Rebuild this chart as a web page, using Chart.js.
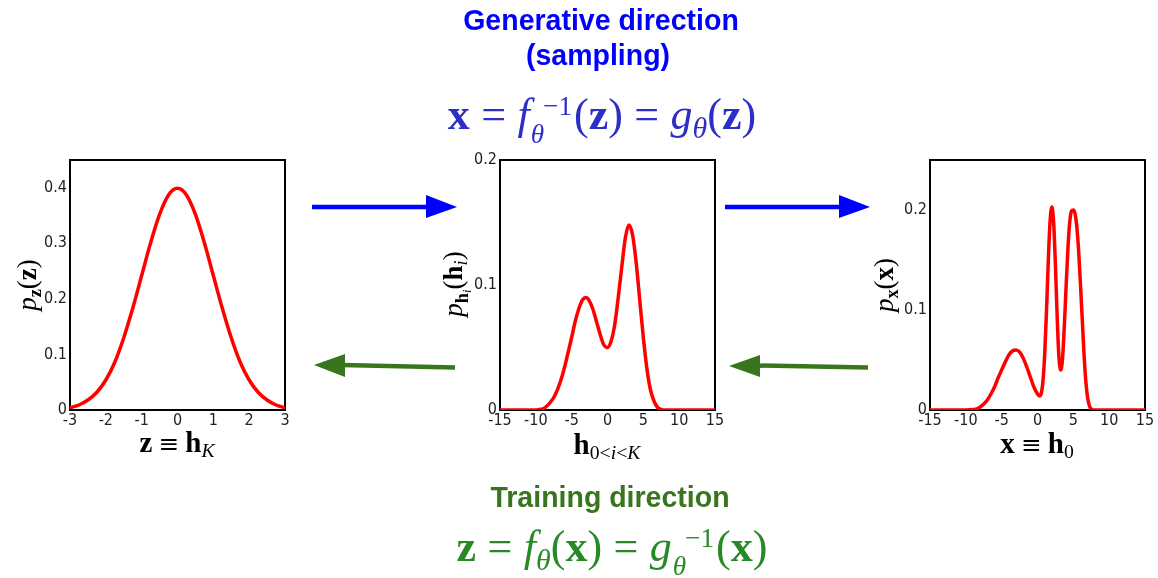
<!DOCTYPE html>
<html>
<head>
<meta charset="utf-8">
<script src="https://cdn.jsdelivr.net/npm/chart.js@4.4.1/dist/chart.umd.min.js"></script>
<style>
  body { margin: 0; background: #fff; }
  #page { position: relative; width: 1158px; height: 578px; overflow: hidden; background: #fff; }
  canvas { position: absolute; }
  .lbl { position: absolute; white-space: nowrap; transform: translate(-50%, -50%); }
  .head { font-family: Arial, Helvetica, sans-serif; font-weight: bold; font-size: 28.5px; transform: translate(-50%, -50%) scaleY(1.05); }
  .math { font-family: 'Liberation Serif', 'DejaVu Serif', serif; font-size: 44px; }
  .math b { font-weight: 600; }
  .eq { margin: 0 0.26em; }
  .axt { font-family: 'Liberation Serif', 'DejaVu Serif', serif; font-size: 29px; color: #000; }
  .rot { font-size: 27px; transform: translate(-50%, -50%) rotate(-90deg); }
  .eqv { margin: 0 0.25em; font-family: 'DejaVu Serif', serif; font-size: 0.85em; }
  sub { font-size: 0.68em; vertical-align: -0.3em; line-height: 0; }
  .ss { display: inline-block; vertical-align: -0.52em; font-size: 0.62em; line-height: 1.05; text-align: left; margin-left: 1px; margin-right: 2px; }
  .ss span { display: block; }
  .ss .up { padding-left: 0.45em; }
  svg { position: absolute; left: 0; top: 0; }
</style>
</head>
<body>
<div id="page">
  <canvas id="c1" width="300" height="290" style="left:0px;top:140px"></canvas>
  <canvas id="c2" width="300" height="290" style="left:430px;top:140px"></canvas>
  <canvas id="c3" width="298" height="290" style="left:860px;top:140px"></canvas>

  <svg width="1158" height="578">
    <line x1="312" y1="207" x2="430" y2="207" stroke="#0000ff" stroke-width="4.5"/>
    <polygon points="426,195 457,207 426,218" fill="#0000ff"/>
    <line x1="725" y1="207" x2="843" y2="207" stroke="#0000ff" stroke-width="4.5"/>
    <polygon points="839,195 870,207 839,218" fill="#0000ff"/>
    <line x1="455" y1="367.5" x2="342" y2="365" stroke="#38761d" stroke-width="4.5"/>
    <polygon points="345,354 314,365 345,377" fill="#38761d"/>
    <line x1="868" y1="367.5" x2="757" y2="365.5" stroke="#38761d" stroke-width="4.5"/>
    <polygon points="760,355 729,366 760,377" fill="#38761d"/>
  </svg>

  <div class="lbl head" style="left:601px;top:20px;color:#0000ff">Generative direction</div>
  <div class="lbl head" style="left:598px;top:55px;color:#0000ff">(sampling)</div>
  <div class="lbl math" style="left:602px;top:119px;color:#2d2dc8"><b>x</b><span class="eq">=</span><i>f</i><span class="ss"><span class="up">&minus;1</span><span><i>&theta;</i></span></span>(<b>z</b>)<span class="eq">=</span><i>g</i><sub><i>&theta;</i></sub>(<b>z</b>)</div>

  <div class="lbl head" style="left:610px;top:497px;color:#38761d">Training direction</div>
  <div class="lbl math" style="left:612px;top:551px;color:#278a27"><b>z</b><span class="eq">=</span><i>f</i><sub><i>&theta;</i></sub>(<b>x</b>)<span class="eq">=</span><i>g</i><span class="ss"><span class="up">&minus;1</span><span><i>&theta;</i></span></span>(<b>x</b>)</div>

  <div class="lbl axt rot" style="left:27px;top:285px"><i>p</i><sub><b>z</b></sub>(<b>z</b>)</div>
  <div class="lbl axt rot" style="left:453px;top:284px"><i>p</i><sub><b>h</b><sub><i>i</i></sub></sub>(<b>h</b><sub><i>i</i></sub>)</div>
  <div class="lbl axt rot" style="left:884px;top:285px"><i>p</i><sub><b>x</b></sub>(<b>x</b>)</div>

  <div class="lbl axt" style="left:177px;top:442px"><b>z</b><span class="eqv">&equiv;</span><b>h</b><sub><i>K</i></sub></div>
  <div class="lbl axt" style="left:607px;top:444px"><b>h</b><sub>0&lt;<i>i</i>&lt;<i>K</i></sub></div>
  <div class="lbl axt" style="left:1037px;top:443px"><b>x</b><span class="eqv">&equiv;</span><b>h</b><sub>0</sub></div>
</div>

<script>
// latent density p_z(z)
var zVals = [-3, -2.75, -2.5, -2.25, -2, -1.75, -1.5, -1.25, -1, -0.75, -0.5, -0.25, 0,
             0.25, 0.5, 0.75, 1, 1.25, 1.5, 1.75, 2, 2.25, 2.5, 2.75, 3];
var pz = [0.004, 0.009, 0.018, 0.032, 0.054, 0.086, 0.130, 0.183, 0.242, 0.301, 0.352, 0.387, 0.399,
          0.387, 0.352, 0.301, 0.242, 0.183, 0.130, 0.086, 0.054, 0.032, 0.018, 0.009, 0.004];

// intermediate density p_hi(hi)
var hVals = [-15, -10, -9.5, -9, -8.5, -8, -7.5, -7, -6.5, -6, -5.5, -5, -4.5, -4, -3.5, -3, -2.5, -2,
             -1.5, -1, -0.5, 0, 0.5, 1, 1.5, 2, 2.5, 3, 3.5, 4, 4.5, 5, 5.5, 6, 6.5, 7, 7.5, 8, 15];
var ph = [0, 0, 0.0005, 0.001, 0.003, 0.006, 0.010, 0.016, 0.024, 0.034, 0.046, 0.058, 0.071, 0.081,
          0.088, 0.090, 0.087, 0.080, 0.070, 0.060, 0.052, 0.050, 0.055, 0.068, 0.090, 0.115, 0.138,
          0.148, 0.140, 0.118, 0.088, 0.058, 0.033, 0.016, 0.007, 0.002, 0.0005, 0, 0];

// data density p_x(x)
var xVals = [-15, -10, -9, -8.5, -8, -7.5, -7, -6.5, -6, -5.5, -5, -4.5, -4, -3.5, -3, -2.5, -2, -1.5,
             -1, -0.5, 0, 0.25, 0.5, 0.75, 1, 1.25, 1.5, 1.75, 2, 2.25, 2.5, 2.75, 3, 3.25, 3.5, 3.75,
             4, 4.25, 4.5, 4.75, 5, 5.25, 5.5, 5.75, 6, 6.25, 6.5, 6.75, 7, 7.25, 7.5, 8, 15];
var px = [0, 0, 0.0005, 0.001, 0.003, 0.006, 0.010, 0.016, 0.023, 0.032, 0.040, 0.048, 0.055, 0.059,
          0.060, 0.058, 0.052, 0.043, 0.033, 0.023, 0.016, 0.014, 0.016, 0.028, 0.055, 0.098, 0.148,
          0.188, 0.203, 0.188, 0.145, 0.092, 0.052, 0.040, 0.052, 0.085, 0.125, 0.162, 0.188, 0.199,
          0.200, 0.196, 0.182, 0.158, 0.125, 0.090, 0.055, 0.028, 0.012, 0.004, 0.001, 0, 0];

var zTicks = [-3, -2, -1, 0, 1, 2, 3];
var wideTicks = [-15, -10, -5, 0, 5, 10, 15];

var tickFont = { family: "'DejaVu Sans Condensed', 'DejaVu Sans', sans-serif", size: 16 };

var frame = {
  id: 'frame',
  beforeDatasetsDraw: function (chart) {
    var a = chart.chartArea, ctx = chart.ctx;
    ctx.save();
    ctx.strokeStyle = '#000';
    ctx.lineWidth = 2;
    ctx.strokeRect(a.left, a.top, a.right - a.left, a.bottom - a.top);
    ctx.restore();
  }
};

function makeChart(id, xs, ys, xMin, xMax, xTickVals, yMax, padRight) {
  var pts = xs.map(function (x, i) { return { x: x, y: ys[i] }; });
  return new Chart(document.getElementById(id).getContext('2d'), {
    type: 'line',
    data: {
      datasets: [{
        data: pts,
        borderColor: '#ff0000',
        borderWidth: 3.5,
        pointRadius: 0,
        cubicInterpolationMode: 'monotone',
        fill: false
      }]
    },
    options: {
      responsive: false,
      animation: false,
      layout: { padding: { top: 20, right: padRight, left: 0, bottom: 0 } },
      plugins: { legend: { display: false }, tooltip: { enabled: false } },
      scales: {
        x: {
          type: 'linear',
          min: xMin,
          max: xMax,
          grid: { display: false, drawTicks: false },
          border: { display: false },
          afterBuildTicks: function (s) { s.ticks = xTickVals.map(function (v) { return { value: v }; }); },
          ticks: { color: '#222', font: tickFont, padding: 1, maxRotation: 0, autoSkip: false },
          afterFit: function (s) { s.height = 20; }
        },
        y: {
          min: 0,
          max: yMax,
          grid: { display: false, drawTicks: false },
          border: { display: false },
          ticks: { stepSize: 0.1, color: '#222', font: tickFont, padding: 3 },
          afterBuildTicks: function (s) {
            s.ticks = s.ticks.filter(function (t) { return Math.abs(t.value * 10 - Math.round(t.value * 10)) < 1e-6; });
          },
          afterFit: function (s) { s.width = 70; }
        }
      }
    },
    plugins: [frame]
  });
}

makeChart('c1', zVals, pz, -3, 3, zTicks, 0.45, 15);
makeChart('c2', hVals, ph, -15, 15, wideTicks, 0.2, 15);
makeChart('c3', xVals, px, -15, 15, wideTicks, 0.25, 13);
</script>
</body>
</html>
